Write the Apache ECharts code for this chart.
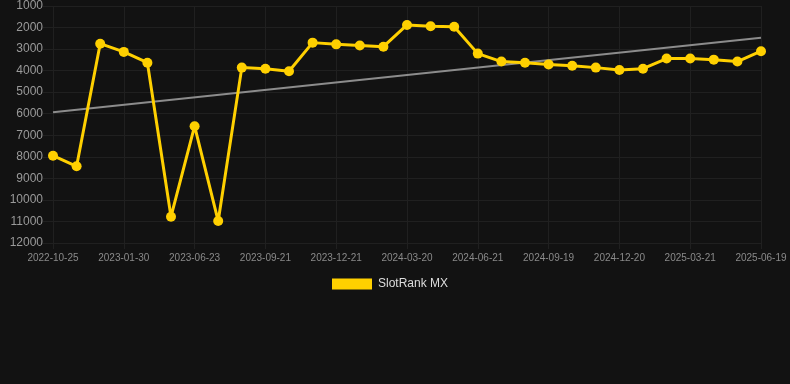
<!DOCTYPE html>
<html>
<head>
<meta charset="utf-8">
<script src="https://cdn.jsdelivr.net/npm/echarts@6/dist/echarts.min.js"></script>
<style>
html,body{margin:0;padding:0;background:#121212;}
#chart{width:790px;height:384px;}
</style>
</head>
<body>
<div id="chart"></div>
<script>
const categories = [
  '2022-10-25','2022-11-26','2022-12-28','2023-01-30','2023-03-18','2023-05-06',
  '2023-06-23','2023-07-23','2023-08-22','2023-09-21','2023-10-21','2023-11-21',
  '2023-12-21','2024-01-20','2024-02-19','2024-03-20','2024-04-20','2024-05-21',
  '2024-06-21','2024-07-21','2024-08-20','2024-09-19','2024-10-19','2024-11-19',
  '2024-12-20','2025-01-19','2025-02-19','2025-03-21','2025-04-20','2025-05-20',
  '2025-06-19'
];
const rankValues = [
  7950, 8440, 2750, 3130, 3630, 10780, 6580, 10980, 3860, 3910, 4030,
  2700, 2780, 2830, 2890, 1880, 1940, 1960, 3210, 3580, 3630,
  3710, 3770, 3860, 3970, 3910, 3440, 3440, 3490, 3580, 3100
];
const trendStart = 5930;
const trendEnd = 2470;
const yTicks = { min: 1000, max: 12000, step: 1000 };
const seriesName = 'SlotRank MX';

const gridColor = '#202020';
const chart = echarts.init(document.getElementById('chart'));
chart.setOption({
  backgroundColor: '#121212',
  animation: false,
  grid: { left: 53, right: 29, top: 6, bottom: 141, containLabel: false },
  legend: {
    data: [seriesName],
    top: 273,
    left: 327,
    itemWidth: 40,
    itemHeight: 11,
    icon: 'rect',
    textStyle: { color: '#dddddd', fontSize: 12, padding: [0, 0, 0, 1], fontFamily: 'Liberation Sans, Arial, sans-serif' }
  },
  xAxis: {
    type: 'category',
    data: categories,
    boundaryGap: false,
    axisLine: { show: true, lineStyle: { color: gridColor } },
    axisTick: { show: true, length: 6, interval: 2, lineStyle: { color: gridColor } },
    splitLine: { show: true, interval: 2, lineStyle: { color: gridColor } },
    axisLabel: {
      interval: 2,
      color: '#8a8a8a',
      fontSize: 10,
      margin: 10,
      fontFamily: 'Liberation Sans, Arial, sans-serif'
    }
  },
  yAxis: {
    type: 'value',
    inverse: true,
    min: yTicks.min,
    max: yTicks.max,
    interval: yTicks.step,
    axisLine: { show: false },
    axisTick: { show: true, length: 10, lineStyle: { color: gridColor } },
    splitLine: { show: true, lineStyle: { color: gridColor } },
    axisLabel: {
      color: '#9a9a9a',
      fontSize: 12,
      margin: 10,
      formatter: function (v) { return String(v); },
      fontFamily: 'Liberation Sans, Arial, sans-serif'
    }
  },
  series: [
    {
      name: 'trend',
      type: 'line',
      data: [[categories[0], trendStart], [categories[categories.length - 1], trendEnd]],
      showSymbol: false,
      symbol: 'none',
      lineStyle: { color: '#8c8c8c', width: 2 },
      z: 1,
      silent: true
    },
    {
      name: seriesName,
      type: 'line',
      data: rankValues,
      symbol: 'circle',
      symbolSize: 10,
      showSymbol: true,
      itemStyle: { color: '#FFD000' },
      lineStyle: { color: '#FFD000', width: 3 },
      z: 2
    }
  ]
});
</script>
</body>
</html>
